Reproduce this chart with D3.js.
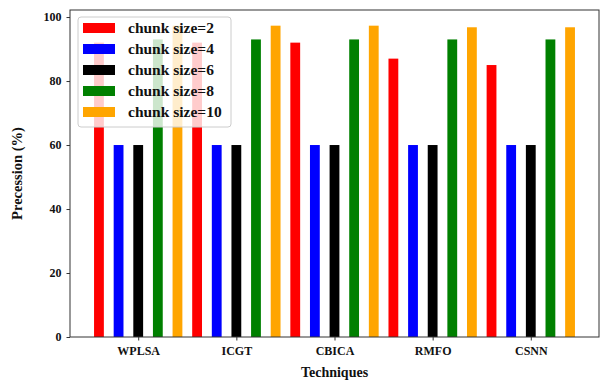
<!DOCTYPE html>
<html>
<head>
<meta charset="utf-8">
<script src="https://cdn.jsdelivr.net/npm/d3@7"></script>
<style>
  body { margin: 0; background: #fff; }
  text { font-family: "Liberation Serif", "Times New Roman", serif; font-weight: bold; fill: #111; }
</style>
</head>
<body>
<div id="chart"></div>
<script>
// Data
const techniques = ['WPLSA', 'ICGT', 'CBICA', 'RMFO', 'CSNN'];
const seriesNames = ['chunk size=2', 'chunk size=4', 'chunk size=6', 'chunk size=8', 'chunk size=10'];
const chunk2 = [92, 92, 92, 87, 85];
const chunk4 = [60, 60, 60, 60, 60];
const chunk6 = [60, 60, 60, 60, 60];
const chunk8 = [93, 93, 93, 93, 93];
const chunk10 = [97.3, 97.3, 97.3, 96.8, 96.8];
const yTicks = [0, 20, 40, 60, 80, 100];

const seriesValues = [chunk2, chunk4, chunk6, chunk8, chunk10];
const colors = ['#ff0000', '#0000ff', '#000000', '#008000', '#ffa500'];

let margin = {top: 10, right: 2, bottom: 44, left: 70},
    width = 601 - margin.left - margin.right,
    height = 381 - margin.top - margin.bottom;

const svg = d3.select('#chart')
    .append('svg')
    .attr('width', width + margin.left + margin.right)
    .attr('height', height + margin.top + margin.bottom)
    .append('g')
    .attr('transform', 'translate(' + margin.left + ',' + margin.top + ')');

// group index as position, bars offset by 0.2 each
let xScale = d3.scaleLinear()
    .domain([-0.695, techniques.length - 1 + 0.695])
    .range([0, width]);

let yScale = d3.scaleLinear()
    .domain([0, 102.2])
    .range([height, 0]);

const barW = 0.1;

seriesValues.forEach((vals, s) => {
    svg.selectAll('.bar-' + s)
        .data(vals).enter()
        .append('rect')
        .attr('class', 'bar-' + s)
        .attr('x', (d, i) => xScale(i + (s - 2) * 0.2 - barW / 2))
        .attr('width', xScale(barW) - xScale(0))
        .attr('y', d => yScale(d))
        .attr('height', d => height - yScale(d))
        .attr('fill', colors[s]);
});

// Axes
const xAxis = svg.append('g')
    .attr('transform', 'translate(0,' + height + ')')
    .call(d3.axisBottom(xScale)
        .tickValues(d3.range(techniques.length))
        .tickFormat(i => techniques[i])
        .tickSizeInner(3.5).tickSizeOuter(0).tickPadding(6));

const yAxis = svg.append('g')
    .call(d3.axisLeft(yScale)
        .tickValues(yTicks)
        .tickSizeInner(3.5).tickSizeOuter(0).tickPadding(5));

[xAxis, yAxis].forEach(a => {
    a.select('.domain').remove();
    a.selectAll('line').attr('stroke', '#333');
    a.selectAll('text').style('font-size', '12px').attr('fill', '#111');
});

// frame
svg.append('rect')
    .attr('x', 0).attr('y', 0)
    .attr('width', width).attr('height', height)
    .attr('fill', 'none')
    .attr('stroke', '#333')
    .attr('stroke-width', 1);

// Axis titles
svg.append('text')
    .attr('x', width / 2)
    .attr('y', height + 40)
    .attr('text-anchor', 'middle')
    .style('font-size', '14px')
    .text('Techniques');

svg.append('text')
    .attr('transform', 'translate(' + (-48) + ',' + (height / 2) + ') rotate(-90)')
    .attr('text-anchor', 'middle')
    .style('font-size', '14.5px')
    .text('Precession (%)');

// Legend
const legend = svg.append('g')
    .attr('transform', 'translate(8,7)');

legend.append('rect')
    .attr('width', 153).attr('height', 110)
    .attr('rx', 3)
    .attr('fill', 'rgba(255,255,255,0.8)')
    .attr('stroke', '#ccc');

seriesNames.forEach((name, s) => {
    const row = legend.append('g')
        .attr('transform', 'translate(0,' + (11 + s * 21) + ')');
    row.append('rect')
        .attr('x', 5).attr('y', -5)
        .attr('width', 32).attr('height', 10)
        .attr('fill', colors[s]);
    row.append('text')
        .attr('x', 50).attr('y', 5)
        .style('font-size', '15.5px')
        .text(name);
});
</script>
</body>
</html>
